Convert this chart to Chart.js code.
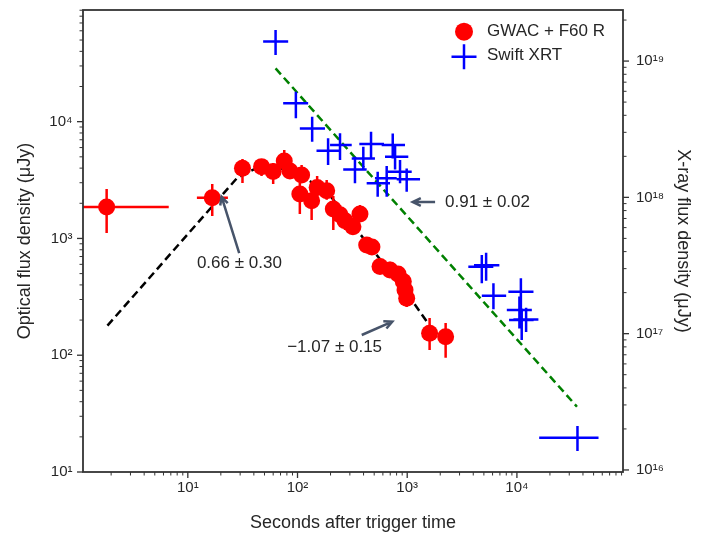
<!DOCTYPE html>
<html>
<head>
<meta charset="utf-8">
<script src="https://cdn.jsdelivr.net/npm/chart.js@4.4.1/dist/chart.umd.min.js"></script>
<style>
  html, body { margin: 0; padding: 0; background: #fff; }
  #wrap { width: 703px; height: 535px; }
</style>
</head>
<body>
<div id="wrap"><canvas id="chart_afterglow"></canvas></div>
<script>
// GWAC + F60 R optical points: seconds, flux (uJy), error ranges
var optT   = [1.82, 16.7, 31.5, 47.0, 60.0, 75.7, 85.3, 109, 105, 134.5, 151, 184.5, 212, 244, 271, 371, 320, 427, 477, 565, 697, 824, 921, 955, 989, 1600, 2240];
var optF   = [1862, 2234, 3990, 4120, 3735, 4600, 3785, 3500, 2400, 2100, 2730, 2560, 1783, 1596, 1418, 1620, 1262, 880, 845, 574, 537, 497, 427, 362, 308, 154, 144];
var optFLo = [1114, 1560, 2985, 3430, 2930, 3855, 3235, 3050, 1622, 1440, 2310, 2140, 1183, 1330, 1183, 1383, 1072, 766, 722, 497, 459, 426, 362, 310, 259, 111, 95];
var optFHi = [2655, 2930, 4800, 4700, 4430, 5730, 4520, 4255, 2985, 2705, 3430, 3160, 2310, 1936, 1687, 1936, 1496, 1009, 971, 681, 630, 582, 507, 425, 362, 208, 189];
var optTLo = [1.0, 12.1];
var optTHi = [6.7, 23.2];

// Swift XRT points (right axis)
var xrtT   = [63.1, 96.6, 136, 190, 244, 334, 398, 468, 538, 650, 738, 775, 860, 989, 4786, 5240, 6110, 10870, 10540, 11060, 12130, 35650];
var xrtTLo = [48.6, 74, 105, 149, 198, 261, 312, 366, 427, 508, 585, 627, 668, 802, 3606, 4064, 4786, 8360, 8090, 8480, 9290, 15960];
var xrtTHi = [82.2, 125, 178, 244, 312, 427, 508, 614, 697, 802, 955, 1023, 1099, 1309, 6095, 6920, 7980, 14160, 13680, 14200, 15700, 55460];
var xrtF   = [1.39e19, 4.9e18, 3.2e18, 2.2e18, 2.42e18, 1.6e18, 1.93e18, 2.46e18, 1.27e18, 1.38e18, 2.42e18, 1.99e18, 1.54e18, 1.36e18, 3.10e17, 3.18e17, 1.9e17, 2.03e17, 1.49e17, 1.26e17, 1.27e17, 1.72e16];
var xrtFLo = [1.11e19, 3.8e18, 2.56e18, 1.73e18, 1.88e18, 1.27e18, 1.63e18, 1.96e18, 1.01e18, 1.01e18, 1.93e18, 1.6e18, 1.27e18, 1.1e18, 2.34e17, 2.44e17, 1.51e17, 1.53e17, 1.09e17, 8.98e16, 1.03e17, 1.38e16];
var xrtFHi = [1.69e19, 5.96e18, 3.9e18, 2.71e18, 2.95e18, 1.99e18, 2.35e18, 3.03e18, 1.54e18, 1.7e18, 2.94e18, 2.4e18, 1.88e18, 1.63e18, 3.78e17, 3.93e17, 2.34e17, 2.55e17, 1.87e17, 1.53e17, 1.55e17, 2.10e16];

// fitted power laws
var optFitT = [1.85, 28, 40, 60, 100, 200, 400, 800, 1178, 1600];
var optFitF = [179, 3275, 3900, 4100, 3700, 2300, 1000, 440, 270, 180];
var xrtFitT = [63.1, 35270];
var xrtFitF = [8.84e18, 2.91e16];

// axis ticks
var xTicks  = [10, 100, 1000, 10000];
var yTicks  = [10, 100, 1000, 10000];
var y2Ticks = [1e16, 1e17, 1e18, 1e19];

// slope notes: text left edge, arrow tail, arrow head (x, left-axis flux)
var noteText = ['0.66 \u00b1 0.30', '0.91 \u00b1 0.02', '\u22121.07 \u00b1 0.15'];
var noteAt   = [[12.1, 617], [2213, 2050], [80.5, 117]];
var noteTail = [[29.4, 747], [1795, 2050], [385, 149]];
var noteHead = [[20.3, 2280], [1122, 2050], [731, 194]];

Chart.defaults.font.family = "'Liberation Sans', Arial, sans-serif";
Chart.defaults.color = '#262626';

var SUP = ['\u2070', '\u00b9', '\u00b2', '\u00b3', '\u2074', '\u2075', '\u2076', '\u2077', '\u2078', '\u2079'];
function powLabel(v) {
    var e = Math.round(Math.log10(v));
    return '10' + String(e).split('').map(function (d) { return SUP[+d]; }).join('');
}
function fixTicks(vals) {
    return function (axis) {
        axis.ticks = vals.map(function (v) { return { value: v, major: true }; });
    };
}
// fixed box sizes so the plot area lands where the original one is
function fitY(w) {
    return function (scale) { scale.width = w; scale.paddingTop = 0; scale.paddingBottom = 0; };
}
function fitX(h) {
    return function (scale) { scale.height = h; scale.paddingLeft = 0; scale.paddingRight = 0; };
}
function pts(xs, ys) {
    return xs.map(function (x, i) { return { x: x, y: ys[i] }; });
}

function drawErrors(chart, yId, t, f, tLo, tHi, fLo, fHi, color) {
    var ctx = chart.ctx, xs = chart.scales.x, ys = chart.scales[yId], a = chart.chartArea;
    ctx.save();
    ctx.beginPath();
    ctx.rect(a.left, a.top, a.right - a.left, a.bottom - a.top);
    ctx.clip();
    ctx.strokeStyle = color;
    ctx.lineWidth = 2.5;
    ctx.beginPath();
    for (var i = 0; i < t.length; i++) {
        var px = xs.getPixelForValue(t[i]), py = ys.getPixelForValue(f[i]);
        ctx.moveTo(px, ys.getPixelForValue(fLo[i]));
        ctx.lineTo(px, ys.getPixelForValue(fHi[i]));
        if (tLo[i] != null) {
            ctx.moveTo(xs.getPixelForValue(tLo[i]), py);
            ctx.lineTo(xs.getPixelForValue(tHi[i]), py);
        }
    }
    ctx.stroke();
    ctx.restore();
}

function drawLogTicks(ctx, scale, side, a) {
    var lo = Math.floor(Math.log10(scale.min)), hi = Math.ceil(Math.log10(scale.max));
    for (var e = lo; e <= hi; e++) {
        for (var m = 1; m <= 9; m++) {
            var v = m * Math.pow(10, e);
            if (v < scale.min * 0.9999 || v > scale.max * 1.0001) continue;
            var p = scale.getPixelForValue(v);
            var len = m === 1 ? 6 : 3.5;
            ctx.lineWidth = m === 1 ? 1.3 : 1;
            ctx.beginPath();
            if (side === 'bottom') { ctx.moveTo(p, a.bottom); ctx.lineTo(p, a.bottom + len); }
            if (side === 'left') { ctx.moveTo(a.left, p); ctx.lineTo(a.left - len, p); }
            if (side === 'right') { ctx.moveTo(a.right, p); ctx.lineTo(a.right + len, p); }
            ctx.stroke();
        }
    }
}

function arrow(ctx, x0, y0, x1, y1) {
    var ang = Math.atan2(y1 - y0, x1 - x0), hl = 9, hw = 0.45;
    ctx.beginPath();
    ctx.moveTo(x0, y0);
    ctx.lineTo(x1, y1);
    ctx.moveTo(x1 - hl * Math.cos(ang - hw), y1 - hl * Math.sin(ang - hw));
    ctx.lineTo(x1, y1);
    ctx.lineTo(x1 - hl * Math.cos(ang + hw), y1 - hl * Math.sin(ang + hw));
    ctx.stroke();
}

var decor = {
    id: 'decor',
    beforeDatasetDraw: function (chart, args) {
        if (args.index === 0) drawErrors(chart, 'y', optT, optF, optTLo, optTHi, optFLo, optFHi, '#ff0000');
    },
    afterDatasetDraw: function (chart, args) {
        if (args.index === 1) drawErrors(chart, 'y2', xrtT, xrtF, xrtTLo, xrtTHi, xrtFLo, xrtFHi, '#0000ff');
    },
    afterDraw: function (chart) {
        var ctx = chart.ctx, a = chart.chartArea, s = chart.scales;
        ctx.save();
        // frame and ticks
        ctx.strokeStyle = '#333';
        ctx.lineWidth = 1.8;
        ctx.strokeRect(a.left, a.top, a.right - a.left, a.bottom - a.top);
        drawLogTicks(ctx, s.x, 'bottom', a);
        drawLogTicks(ctx, s.y, 'left', a);
        drawLogTicks(ctx, s.y2, 'right', a);

        // legend
        var lx = a.right - 159;
        ctx.fillStyle = '#ff0000';
        ctx.beginPath();
        ctx.arc(lx, a.top + 21.7, 9, 0, Math.PI * 2);
        ctx.fill();
        ctx.strokeStyle = '#0000ff';
        ctx.lineWidth = 2.5;
        ctx.beginPath();
        ctx.moveTo(lx - 12.5, a.top + 46.7); ctx.lineTo(lx + 12.5, a.top + 46.7);
        ctx.moveTo(lx, a.top + 34.2); ctx.lineTo(lx, a.top + 59.2);
        ctx.stroke();
        ctx.fillStyle = '#262626';
        ctx.font = "17px 'Liberation Sans', Arial, sans-serif";
        ctx.textAlign = 'left';
        ctx.textBaseline = 'middle';
        ctx.fillText(chart.data.datasets[0].label, lx + 23, a.top + 21);
        ctx.fillText(chart.data.datasets[1].label, lx + 23, a.top + 45.7);

        // slope notes
        ctx.strokeStyle = '#47546a';
        ctx.lineWidth = 2.5;
        for (var i = 0; i < noteText.length; i++) {
            arrow(ctx,
                s.x.getPixelForValue(noteTail[i][0]), s.y.getPixelForValue(noteTail[i][1]),
                s.x.getPixelForValue(noteHead[i][0]), s.y.getPixelForValue(noteHead[i][1]));
            ctx.fillText(noteText[i], s.x.getPixelForValue(noteAt[i][0]), s.y.getPixelForValue(noteAt[i][1]));
        }
        ctx.restore();
    }
};

var chart_afterglow = new Chart(document.getElementById('chart_afterglow'), {
    type: 'scatter',
    data: {
        datasets: [
            {
                label: 'GWAC + F60 R',
                data: pts(optT, optF),
                yAxisID: 'y',
                pointRadius: 8.5,
                pointHoverRadius: 8.5,
                pointBackgroundColor: '#ff0000',
                pointBorderWidth: 0,
                order: 1
            },
            {
                label: 'Swift XRT',
                data: pts(xrtT, xrtF),
                yAxisID: 'y2',
                pointRadius: 0,
                pointHoverRadius: 0,
                order: 2
            },
            {
                label: 'optical fit',
                data: pts(optFitT, optFitF),
                yAxisID: 'y',
                showLine: true,
                borderColor: '#000',
                borderWidth: 2.5,
                borderDash: [8, 4.5],
                pointRadius: 0,
                order: 3
            },
            {
                label: 'X-ray fit',
                data: pts(xrtFitT, xrtFitF),
                yAxisID: 'y2',
                showLine: true,
                borderColor: '#008000',
                borderWidth: 2.5,
                borderDash: [8, 4.5],
                pointRadius: 0,
                order: 4
            }
        ]
    },
    options: {
        animation: false,
        responsive: true,
        maintainAspectRatio: false,
        events: [],
        layout: { padding: { top: 10, left: 0, right: 0, bottom: 0 } },
        plugins: {
            legend: { display: false },
            tooltip: { enabled: false }
        },
        scales: {
            x: {
                type: 'logarithmic',
                position: 'bottom',
                min: 1.108,
                max: 92700,
                afterBuildTicks: fixTicks(xTicks),
                afterFit: fitX(63),
                grid: { display: false, drawTicks: false },
                border: { display: false },
                ticks: {
                    autoSkip: false,
                    maxRotation: 0,
                    padding: 6.5,
                    font: { size: 15 },
                    callback: function (value) { return powLabel(value); }
                },
                title: {
                    display: true,
                    text: 'Seconds after trigger time',
                    font: { size: 18 },
                    padding: { top: 0, bottom: 1.2 }
                }
            },
            y: {
                type: 'logarithmic',
                position: 'left',
                min: 10,
                max: 90400,
                afterBuildTicks: fixTicks(yTicks),
                afterFit: fitY(83),
                grid: { display: false, drawTicks: false },
                border: { display: false },
                ticks: {
                    autoSkip: false,
                    padding: 10.5,
                    font: { size: 15 },
                    callback: function (value) { return powLabel(value); }
                },
                title: {
                    display: true,
                    text: 'Optical flux density (\u03bcJy)',
                    font: { size: 18 },
                    padding: { top: 14.2, bottom: 0 }
                }
            },
            y2: {
                type: 'logarithmic',
                position: 'right',
                min: 9.66e15,
                max: 2.37e19,
                afterBuildTicks: fixTicks(y2Ticks),
                afterFit: fitY(80),
                grid: { display: false, drawTicks: false },
                border: { display: false },
                ticks: {
                    autoSkip: false,
                    padding: 13,
                    font: { size: 15 },
                    callback: function (value) { return powLabel(value); }
                },
                title: {
                    display: true,
                    text: 'X-ray flux density (\u03bcJy)',
                    font: { size: 18 },
                    padding: { top: 9.2, bottom: 0 }
                }
            }
        }
    },
    plugins: [decor]
});
</script>
</body>
</html>
